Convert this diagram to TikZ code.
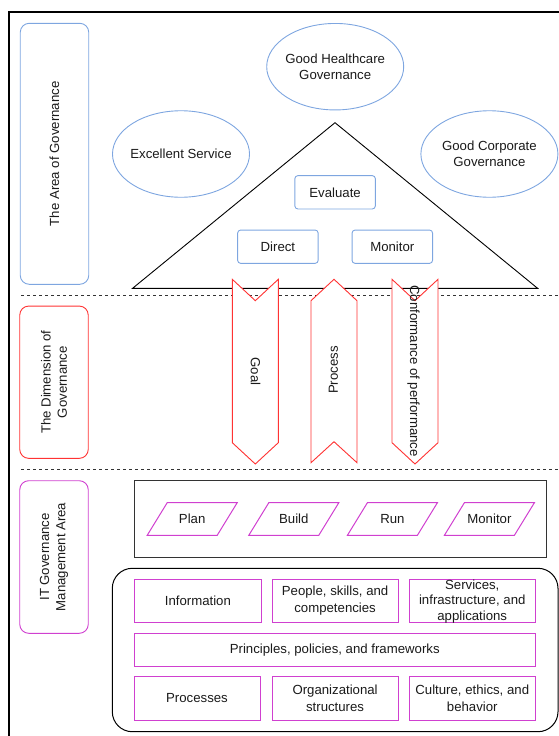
\documentclass[tikz,border=0pt]{standalone}
\usepackage{fontspec}
\setmainfont{Liberation Sans}
\usetikzlibrary{shapes.geometric}
\definecolor{blueC}{HTML}{7EA6E0}
\definecolor{redC}{HTML}{FF3333}
\definecolor{magC}{HTML}{D040D0}
\definecolor{txt}{HTML}{1A1A1A}
\definecolor{darkC}{HTML}{333333}
\begin{document}
\begin{tikzpicture}[x=1pt,y=-1pt,
  every node/.style={font=\fontsize{13.2}{16.3}\selectfont, text=txt, align=center, inner sep=0pt},
  oval/.style={ellipse, draw=blueC, line width=0.9pt, minimum width=137pt, minimum height=86.5pt},
  bluebox/.style={draw=blueC, line width=0.9pt, rounded corners=3pt, minimum width=80.5pt, minimum height=33.3pt},
  sidebox/.style={draw=#1, line width=0.9pt, rounded corners=9pt, minimum width=68.5pt},
  chev/.style={draw=redC, fill=white, line width=0.9pt, line join=miter},
  magbox/.style={draw=magC, line width=1pt},
  para/.style={draw=magC, line width=1pt, line join=miter},
  sep/.style={darkC, line width=0.8pt, dash pattern=on 3pt off 3pt},
]
\useasboundingbox (0,0) rectangle (559,736);

% outer frame
\coordinate (fb) at (9,736);
\coordinate (ftl) at (9,12);
\coordinate (ftr) at (559,12);
\draw[black, line width=1.1pt] (fb) -- (ftl) -- (ftr);

% dashed separators
\coordinate (s1a) at (21,295.5);
\coordinate (s1b) at (559,295.5);
\coordinate (s2a) at (21,469.5);
\coordinate (s2b) at (559,469.5);
\draw[sep] (s1a) -- (s1b);
\draw[sep] (s2a) -- (s2b);

% side boxes
\node[sidebox=blueC, minimum height=261pt] (area) at (54.5,153.8) {};
\node[rotate=90] (areaT) at (area) {The Area of Governance};
\node[sidebox=redC, minimum height=152.3pt] (dim) at (54,382.2) {};
\node[rotate=90] (dimT) at (dim) {The Dimension of\\Governance};
\node[sidebox=magC, minimum height=152.6pt] (itm) at (54,557) {};
\node[rotate=90] (itmT) at (itm) {IT Governance\\Management Area};

% ellipses
\node[oval] (health) at (335.2,66.7) {};
\node (healthT) at (health) {Good Healthcare\\Governance};
\node[oval] (excel) at (181,154) {};
\node (excelT) at (excel) {Excellent Service};
\node[oval] (corp) at (489.4,154) {};
\node (corpT) at (corp) {Good Corporate\\Governance};

% triangle
\coordinate (tA) at (335,122.7);
\coordinate (tL) at (132.6,288.3);
\coordinate (tR) at (537.6,288.3);
\draw[black, line width=0.9pt, line join=miter] (tA) -- (tR) -- (tL) -- cycle;

\node[bluebox] (eval) at (335.1,192.3) {Evaluate};
\node[bluebox] (direct) at (277.9,246.7) {Direct};
\node[bluebox] (monitorA) at (392.3,246.7) {Monitor};

% chevrons
\draw[chev] (232.3,279.3) -- (255.3,300.7) -- (278.3,279.3) -- (278.3,442.7) -- (255.3,464) -- (232.3,442.7) -- cycle;
\node[rotate=-90] (goal) at (255.5,371.5) {Goal};
\draw[chev] (311,300.7) -- (334,279.3) -- (357,300.7) -- (357,462.7) -- (334,441.7) -- (311,462.7) -- cycle;
\node[rotate=90] (proc) at (333.5,370) {Process};
\draw[chev] (392,279.3) -- (415,300.7) -- (438,279.3) -- (438,442.7) -- (415,464) -- (392,442.7) -- cycle;
\node[rotate=-90] (conf) at (413.5,371) {Conformance of performance};

% IT management process box
\node[draw=darkC, line width=1.2pt, minimum width=411.7pt, minimum height=76.6pt] (pbox) at (340.65,519) {};
\foreach \cx/\nm/\lb in {192.2/plan/Plan, 293.8/build/Build, 392.4/run/Run, 489.4/mon/Monitor}{
  \draw[para] (\cx-45,535.3) -- (\cx-25,502.7) -- (\cx+45,502.7) -- (\cx+25,535.3) -- cycle;
  \node (\nm) at (\cx,519) {\lb};
}

% enablers container
\node[draw=black, line width=1pt, rounded corners=20pt, minimum width=445.7pt, minimum height=163.4pt] (cont) at (335.15,650) {};

\node[magbox, minimum width=126.2pt, minimum height=43.3pt] (info) at (197.9,600.65) {Information};
\node[magbox, minimum width=126.2pt, minimum height=43.3pt] (people) at (335.1,600.65) {People, skills, and\\competencies};
\node[magbox, minimum width=126.5pt, minimum height=43.3pt] (svc) at (472.25,600.65) {};
\node (svcT) at (472.25,601.5) {Services,\\[-0.8pt]infrastructure, and\\[-0.8pt]applications};
\node[magbox, minimum width=401.5pt, minimum height=32.7pt] (princ) at (334.75,649.65) {Principles, policies, and frameworks};
\node[magbox, minimum width=126pt, minimum height=43.3pt] (procs) at (197,698.35) {Processes};
\node[magbox, minimum width=126.2pt, minimum height=43.3pt] (org) at (335.1,698.35) {Organizational\\structures};
\node[magbox, minimum width=126.5pt, minimum height=43.3pt] (cult) at (472.25,698.35) {Culture, ethics, and\\behavior};
\end{tikzpicture}
\end{document}
